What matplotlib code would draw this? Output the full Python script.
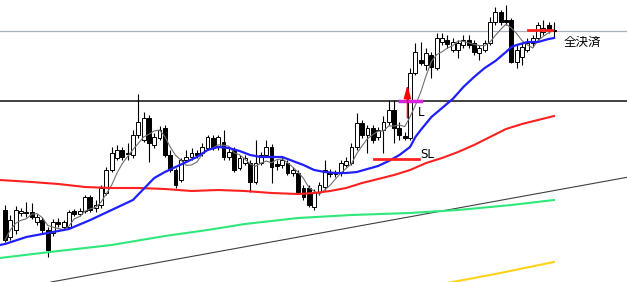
import matplotlib
matplotlib.use("Agg")
import matplotlib.pyplot as plt
import numpy as np
import pandas as pd

# candle data (price units)
opens = [72, 45, 52, 69, 70, 70, 60, 62, 52, 49, 60, 55, 55, 71, 68, 71, 85, 74, 77, 89,
         112, 124, 132, 128, 127, 147, 142, 164, 137, 144, 154, 127, 112, 102, 122, 125, 129, 129, 134, 144,
         135, 140, 125, 132, 114, 119, 119, 100, 119, 127, 135, 118, 117, 119, 109, 109, 94, 94, 75, 90,
         95, 110, 109, 109, 117, 119, 135, 159, 147, 154, 145, 152, 160, 172, 154, 146, 144, 209, 222, 217,
         227, 214, 240, 242, 232, 232, 237, 242, 239, 229, 232, 239, 260, 270, 262, 262, 220, 225, 232, 239,
         244, 250, 257, 252]
closes = [42, 62, 72, 71, 69, 65, 65, 52, 32, 60, 58, 60, 70, 68, 71, 85, 72, 77, 94, 112,
          129, 132, 125, 129, 147, 160, 164, 139, 145, 152, 127, 112, 97, 122, 125, 129, 127, 135, 145, 134,
          145, 125, 130, 112, 124, 124, 100, 119, 127, 135, 115, 116, 122, 109, 112, 90, 85, 77, 90, 97,
          112, 108, 108, 119, 121, 135, 159, 147, 154, 142, 152, 160, 172, 154, 147, 144, 209, 230, 219, 229,
          215, 244, 244, 238, 240, 239, 242, 237, 230, 234, 239, 260, 270, 260, 260, 220, 232, 235, 239, 244,
          257, 254, 252, 251]
highs = [77, 67, 76, 74, 80, 79, 68, 65, 55, 63, 64, 62, 72, 73, 74, 87, 87, 82, 97, 115,
         135, 137, 135, 139, 152, 188, 170, 167, 149, 156, 157, 132, 114, 124, 132, 134, 132, 139, 147, 147,
         147, 152, 134, 135, 127, 127, 122, 142, 130, 142, 138, 122, 125, 122, 115, 112, 97, 97, 93, 100,
         122, 113, 112, 122, 125, 139, 169, 162, 157, 157, 155, 166, 182, 182, 160, 150, 214, 239, 240, 234,
         230, 249, 249, 247, 244, 242, 247, 247, 242, 237, 242, 265, 275, 272, 277, 264, 237, 239, 244, 247,
         260, 262, 260, 260]
lows = [40, 42, 48, 66, 65, 63, 57, 49, 25, 46, 55, 53, 53, 66, 66, 69, 70, 70, 74, 87,
        110, 122, 122, 122, 124, 144, 140, 120, 134, 142, 125, 110, 94, 100, 120, 122, 124, 126, 132, 132,
        132, 122, 122, 110, 112, 117, 90, 98, 117, 125, 99, 112, 114, 107, 106, 88, 82, 75, 72, 87,
        92, 105, 105, 106, 115, 117, 132, 144, 129, 139, 142, 129, 157, 139, 142, 142, 142, 207, 217, 212,
        204, 212, 237, 234, 230, 224, 234, 234, 227, 222, 230, 237, 257, 257, 257, 219, 214, 217, 230, 235,
        242, 247, 249, 244]

# moving averages read at selected candles
blue_idx = [-1, 0, 4, 8, 12, 16, 20, 24, 26, 28, 30, 32, 34, 36, 38, 40, 42, 44, 46, 48, 50, 52, 54,
            56, 58, 60, 62, 64, 66, 68, 70, 72, 74, 76, 77, 78, 80, 82, 84, 86, 88, 90, 92, 94, 95,
            96, 98, 100, 102, 103]
blue_val = [37, 38, 45, 49, 53, 62, 72, 82, 93, 104, 110, 115, 120, 125, 132, 135, 134, 131, 127, 125,
            125, 125, 121, 117, 112, 110, 109, 109, 110, 113, 116, 121, 127, 135, 145, 152, 165, 174, 183,
            195, 205, 214, 221, 230, 235, 237, 240, 240, 243, 244]
red_idx = [-1, 5, 10, 15, 20, 25, 30, 35, 40, 45, 50, 55, 58, 61, 64, 67, 70, 73, 76, 79, 82, 85, 88,
           91, 94, 97, 100, 103]
red_val = [102, 100, 98, 95, 94, 94, 93, 91, 92, 91, 89, 88, 89, 91, 94, 99, 103, 107, 112, 119, 124,
           130, 137, 145, 153, 158, 162, 166]
green_idx = [-1, 10, 20, 30, 38, 45, 55, 65, 76, 85, 95, 103]
green_val = [24, 31, 37, 46, 52, 58, 64, 67, 69, 72, 77, 82]
yellow_idx = [80, 92, 103]
yellow_val = [-4, 8, 20]

resistance = 181
trend_pts = [(20, 11), (100, 88.5)]
entry_idx, entry_price = 75.5, 181
sl_price = 123
exit_price = 252

idx = np.arange(len(closes))
o = np.array(opens)
c = np.array(closes)
up = c >= o

fig = plt.figure(figsize=(6.27, 2.82), dpi=100)
ax = fig.add_axes([0, 0, 1, 1])
ax.set_xlim(-0.94, 116.7)
ax.set_ylim(0, 282)
ax.axis("off")

# horizontal lines
ax.axhline(resistance, color="#404040", lw=1.4, zorder=1)
ax.axhline(closes[-1], color="#a9b0be", lw=0.9, zorder=1)
ax.axline(trend_pts[0], trend_pts[1], color="#404040", lw=0.8, zorder=1)

# candles
ax.vlines(idx, lows, highs, color="black", lw=0.8, zorder=2)
body = np.maximum(np.abs(c - o), 0.6)
bottom = np.minimum(o, c)
ax.bar(idx[up], body[up], bottom=bottom[up], width=0.72, color="white",
       edgecolor="black", linewidth=0.7, zorder=3)
ax.bar(idx[~up], body[~up], bottom=bottom[~up], width=0.72, color="black",
       edgecolor="black", linewidth=0.7, zorder=3)

# indicators
ma5 = pd.Series(closes).rolling(5, min_periods=1).mean()
ax.plot(idx, ma5, color="#707070", lw=0.8, zorder=4)
ax.plot(blue_idx, blue_val, color="#1f1fff", lw=1.6, zorder=5)
ax.plot(red_idx, red_val, color="#ff2020", lw=1.5, zorder=4)
ax.plot(green_idx, green_val, color="#2ee87a", lw=1.5, zorder=4)
ax.plot(yellow_idx, yellow_val, color="#ffd21a", lw=1.5, zorder=4)

# trade marks
ax.plot([74.1, 78], [entry_price, entry_price], color="#e020e0", lw=2.5, zorder=6)
ax.annotate("", xy=(entry_idx, 197), xytext=(entry_idx, 164),
            arrowprops=dict(arrowstyle="-|>,head_width=0.22,head_length=0.8",
                            color="red", lw=1.0, shrinkA=0, shrinkB=0), zorder=7)
ax.plot([69.2, 77.6], [sl_price, sl_price], color="#ff2020", lw=2, zorder=6)
ax.plot([98.1, 102.7], [exit_price, exit_price], color="#ff2020", lw=2, zorder=6)

ax.text(77.4, 170, "L", fontsize=8.5, va="center", ha="left", color="black")
ax.text(77.9, 128, "SL", fontsize=8.5, va="center", ha="left", color="black")
ax.text(104.7, 240, "全決済", fontsize=9, va="center", ha="left", color="black",
        family=["Noto Sans CJK JP", "DejaVu Sans"])

fig.savefig("out.png", dpi=100)
